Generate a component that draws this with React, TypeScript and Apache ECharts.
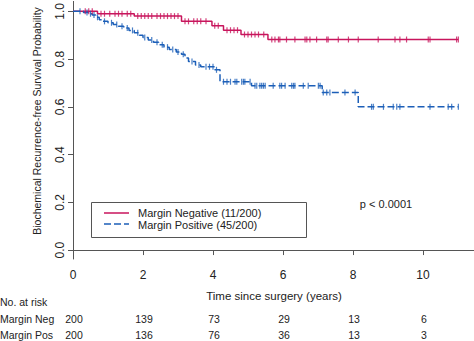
import React, { useEffect, useRef } from "react";
import * as echarts from "echarts";

// Kaplan-Meier step data: [time (years), survival probability]
const negSteps: [number, number][] = [
  [0, 1.0], [0.7, 0.99], [1.75, 0.98], [3.1, 0.958], [3.97, 0.94],
  [4.3, 0.921], [4.8, 0.903], [5.57, 0.882], [11.01, 0.882],
];
const posSteps: [number, number][] = [
  [0, 1.0], [0.3, 0.995], [0.45, 0.99], [0.55, 0.985], [0.65, 0.975],
  [0.75, 0.965], [0.85, 0.958], [1.0, 0.952], [1.15, 0.945], [1.3, 0.938],
  [1.45, 0.93], [1.6, 0.92], [1.75, 0.91], [1.9, 0.9], [2.0, 0.89],
  [2.15, 0.88], [2.3, 0.87], [2.45, 0.86], [2.6, 0.85], [2.75, 0.84],
  [2.95, 0.83], [3.1, 0.82], [3.2, 0.805], [3.3, 0.79], [3.5, 0.775],
  [3.65, 0.768], [4.05, 0.755], [4.2, 0.705], [5.1, 0.688], [7.12, 0.66],
  [8.15, 0.6], [11.01, 0.6],
];
// censoring times
const negCensor: number[] = [
  0.35, 0.45, 0.55, 0.8, 0.9, 1.05, 1.2, 1.3, 1.4, 1.55, 1.65, 1.85, 1.95,
  2.05, 2.15, 2.25, 2.4, 2.5, 2.6, 2.7, 2.8, 2.9, 3.0, 3.2, 3.3, 3.45, 3.55,
  3.65, 3.8, 4.05, 4.15, 4.4, 4.5, 4.6, 4.7, 4.9, 5.0, 5.1, 5.2, 5.3, 5.45,
  5.68, 5.77, 5.87, 5.91, 6.1, 6.34, 6.63, 6.68, 6.77, 6.96, 7.25, 7.29,
  7.58, 7.87, 8.15, 8.72, 9.2, 9.34, 9.53, 10.15, 10.2, 10.96, 11.01,
];
const posCensor: number[] = [
  0.2, 0.4, 0.5, 0.6, 0.7, 0.9, 1.1, 1.25, 1.4, 1.55, 1.7, 1.85, 2.05, 2.25,
  2.4, 2.55, 2.7, 2.85, 3.0, 3.15, 3.4, 3.6, 3.8, 3.9, 4.0, 4.1, 4.3, 4.4,
  4.5, 4.63, 4.68, 4.82, 4.87, 4.91, 5.06, 5.2, 5.25, 5.34, 5.39, 5.44, 5.49,
  5.72, 5.91, 5.96, 6.06, 6.25, 6.3, 6.34, 6.58, 6.72, 7.01, 7.06, 7.15,
  7.25, 7.34, 7.77, 8.06, 8.53, 8.58, 8.87, 9.15, 9.25, 9.34, 10.2, 10.72,
  10.82, 11.01,
];
const xTicks: number[] = [0, 2, 4, 6, 8, 10];
const yTicks: number[] = [0, 0.2, 0.4, 0.6, 0.8, 1.0];
const riskNeg: number[] = [200, 139, 73, 29, 13, 6];
const riskPos: number[] = [200, 136, 76, 36, 13, 3];
const legendNames: string[] = ["Margin Negative (11/200)", "Margin Positive (45/200)"];
const riskNames: string[] = ["Margin Neg", "Margin Pos"];

const RED = "#c8155c";
const BLUE = "#1c5fb8";
const FONT = "Liberation Sans, Arial, sans-serif";

function survAt(steps: [number, number][], t: number): number {
  let s = steps[0][1];
  for (const [ti, si] of steps) {
    if (ti <= t) s = si;
  }
  return s;
}

export default function App() {
  const ref = useRef<HTMLDivElement>(null);
  useEffect(() => {
    if (!ref.current) return;
    const chart = echarts.init(ref.current, undefined, { renderer: "svg" });
    const tickStyle = { color: "#222", fontFamily: FONT, fontSize: 12 };
    const riskText = (x: number, y: number, text: string, align = "center") => ({
      type: "text",
      x,
      y,
      style: { text, fill: "#222", font: `10.5px ${FONT}`, align, verticalAlign: "middle" },
    });
    const riskCols: any[] = [];
    xTicks.forEach((t, i) => {
      const px = chart ? 0 : 0;
      void px;
      riskCols.push({ t, i });
    });
    const option: any = {
      animation: false,
      grid: { left: 73, right: 0, top: 0, bottom: 82 },
      xAxis: {
        type: "value",
        min: 0,
        max: 401 / 35,
        axisLine: { show: true, lineStyle: { color: "#555", width: 1 } },
        axisTick: { show: true, length: 5, customValues: xTicks, lineStyle: { color: "#555" } },
        axisLabel: { customValues: xTicks, margin: 10, ...tickStyle, formatter: (v: number) => String(v) },
        splitLine: { show: false },
      },
      yAxis: {
        type: "value",
        min: -9 / 240,
        max: 1 + 10 / 240,
        axisLine: { show: true, lineStyle: { color: "#555", width: 1 } },
        axisTick: { show: true, length: 5, customValues: yTicks, lineStyle: { color: "#555" } },
        axisLabel: {
          customValues: yTicks,
          rotate: 90,
          margin: 7,
          ...tickStyle,
          formatter: (v: number) => v.toFixed(1),
        },
        splitLine: { show: false },
      },
      series: [
        {
          type: "line",
          step: "end",
          data: negSteps,
          showSymbol: false,
          lineStyle: { color: RED, width: 1.5 },
          z: 3,
        },
        {
          type: "line",
          step: "end",
          data: posSteps,
          showSymbol: false,
          lineStyle: { color: BLUE, width: 1.5, type: [7, 3] },
          z: 3,
        },
        {
          type: "scatter",
          data: negCensor.map((t) => [t, survAt(negSteps, t)]),
          symbol: "rect",
          symbolSize: [1.2, 6],
          itemStyle: { color: RED },
          z: 4,
        },
        {
          type: "scatter",
          data: posCensor.map((t) => [t, survAt(posSteps, t)]),
          symbol: "rect",
          symbolSize: [1.2, 6],
          itemStyle: { color: BLUE },
          z: 4,
        },
      ],
    };
    chart.setOption(option);

    const colX = (t: number) => chart.convertToPixel({ xAxisIndex: 0 }, t) as number;
    const graphics: any[] = [
      // y axis title
      {
        type: "text",
        x: 37,
        y: 121,
        rotation: Math.PI / 2,
        style: {
          text: "Biochemical Recurrence-free Survival Probability",
          fill: "#222",
          font: `10.5px ${FONT}`,
          align: "center",
          verticalAlign: "middle",
        },
      },
      {
        type: "text",
        x: 274,
        y: 296,
        style: {
          text: "Time since surgery (years)",
          fill: "#222",
          font: `11.5px ${FONT}`,
          align: "center",
          verticalAlign: "middle",
        },
      },
      {
        type: "text",
        x: 386,
        y: 204,
        style: { text: "p < 0.0001", fill: "#222", font: `11px ${FONT}`, align: "center", verticalAlign: "middle" },
      },
      // legend box
      {
        type: "rect",
        shape: { x: 91.5, y: 202.5, width: 215, height: 35 },
        style: { fill: "#fff", stroke: "#555", lineWidth: 1 },
        z: 10,
      },
      {
        type: "line",
        shape: { x1: 104, y1: 213, x2: 129, y2: 213 },
        style: { stroke: RED, lineWidth: 1.5 },
        z: 11,
      },
      {
        type: "line",
        shape: { x1: 104, y1: 224, x2: 129, y2: 224 },
        style: { stroke: BLUE, lineWidth: 1.5, lineDash: [7, 3] },
        z: 11,
      },
      {
        type: "text",
        x: 138,
        y: 213,
        style: { text: legendNames[0], fill: "#222", font: `11px ${FONT}`, verticalAlign: "middle" },
        z: 11,
      },
      {
        type: "text",
        x: 138,
        y: 225,
        style: { text: legendNames[1], fill: "#222", font: `11px ${FONT}`, verticalAlign: "middle" },
        z: 11,
      },
      riskText(0, 302, "No. at risk", "left"),
      riskText(0, 319, riskNames[0], "left"),
      riskText(0, 335, riskNames[1], "left"),
    ];
    xTicks.forEach((t, i) => {
      graphics.push(riskText(colX(t) + 1, 319, String(riskNeg[i])));
      graphics.push(riskText(colX(t) + 1, 335, String(riskPos[i])));
    });
    chart.setOption({ graphic: graphics });

    return () => chart.dispose();
  }, []);
  return <div ref={ref} style={{ width: 474, height: 341, position: "absolute", left: 0, top: 0 }} />;
}
